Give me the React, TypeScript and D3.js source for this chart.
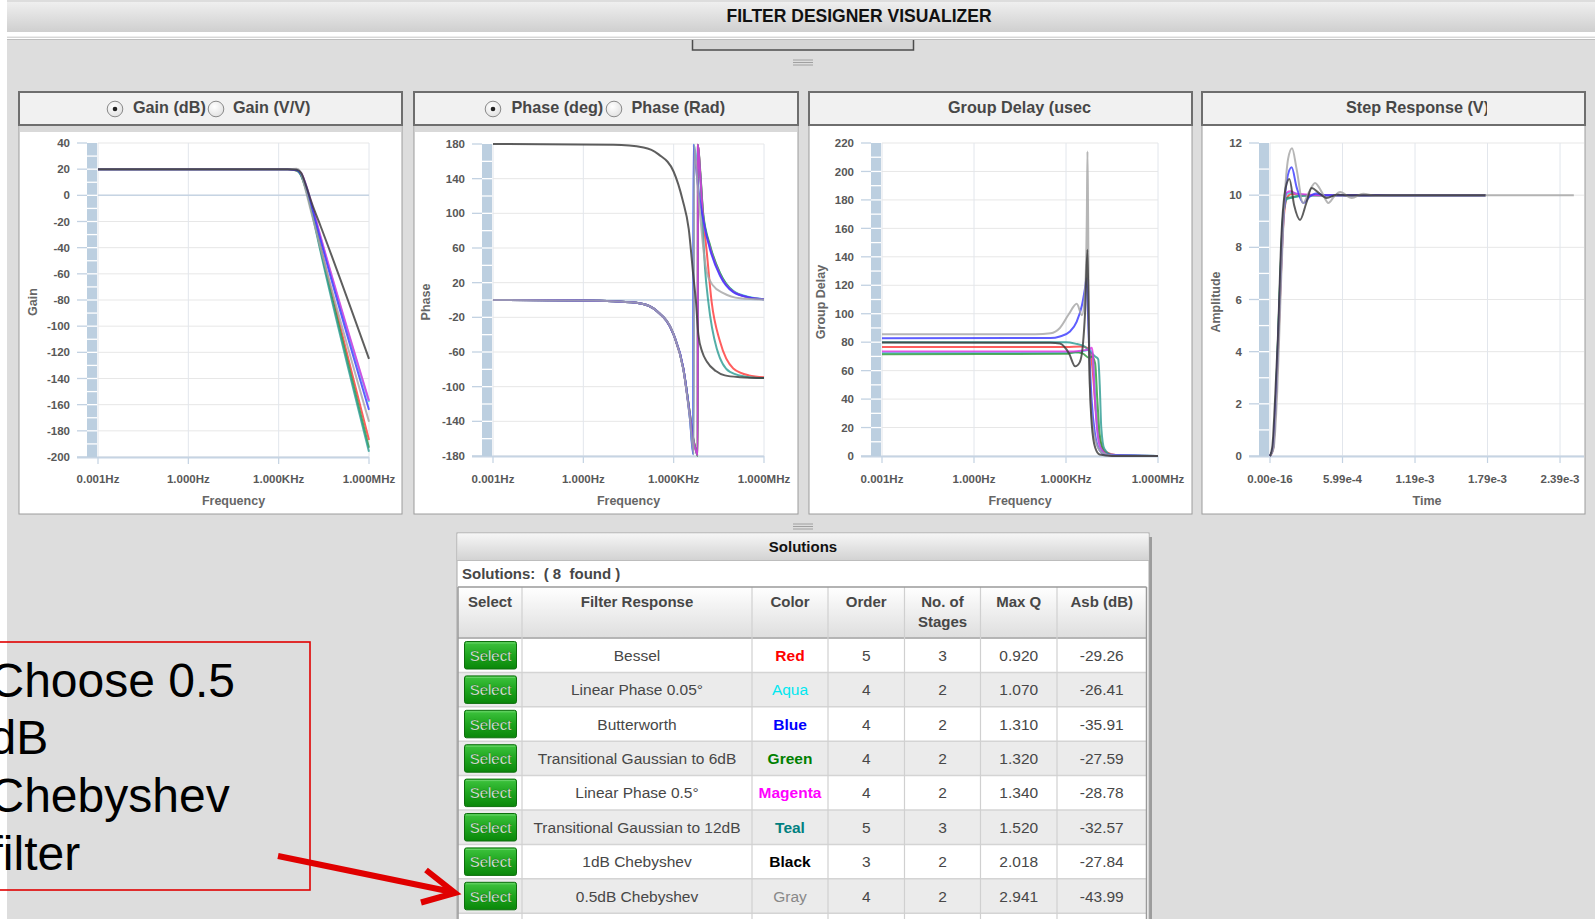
import React from 'react';
import * as d3 from 'd3';

type Pt = [number, number];

const FONT = "'Liberation Sans', Arial, Helvetica, sans-serif";

// ---------- filter table ----------
const filterNames = [
  'Bessel', 'Linear Phase 0.05°', 'Butterworth', 'Transitional Gaussian to 6dB',
  'Linear Phase 0.5°', 'Transitional Gaussian to 12dB', '1dB Chebyshev', '0.5dB Chebyshev',
];
const colorNames = ['Red', 'Aqua', 'Blue', 'Green', 'Magenta', 'Teal', 'Black', 'Gray'];
const colorSwatches = ['#ff0000', '#00e8f0', '#0000ff', '#008000', '#ff00ff', '#008080', '#000000', '#888888'];
const filterOrders = [5, 4, 4, 4, 4, 5, 3, 4];
const stageCounts = [3, 2, 2, 2, 2, 3, 2, 2];
const maxQ = ['0.920', '1.070', '1.310', '1.320', '1.340', '1.520', '2.018', '2.941'];
const asbDb = ['-29.26', '-26.41', '-35.91', '-27.59', '-28.78', '-32.57', '-27.84', '-43.99'];

// line colours per filter, in drawing order
const lineKeys = ['red', 'aqua', 'green', 'teal', 'magenta', 'blue', 'gray', 'black'];
const lineColors: Record<string, string> = {
  red: '#ff3b3b', aqua: '#2fe2ea', green: '#2f9a3a', teal: '#2e9c94',
  magenta: '#e034e0', blue: '#3a3aff', gray: '#a6a6a6', black: '#3a3a3a',
};

// ---------- gain (dB) vs log10(Hz) ----------
const gainRed: Pt[] = [[-3, 20], [3.3, 20], [3.6, 19], [3.75, 15.5], [3.9, 6], [4.1, -11], [4.4, -40], [6, -187]];
const gainAqua: Pt[] = [[-3, 20], [3.3, 20], [3.6, 19.5], [3.75, 16.5], [3.9, 8], [4.1, -8], [4.4, -33], [6, -158]];
const gainBlue: Pt[] = [[-3, 20], [3.3, 20], [3.6, 19.3], [3.75, 16], [3.9, 7], [4.1, -9], [4.4, -35], [6, -164]];
const gainGreen: Pt[] = [[-3, 20], [3.3, 20], [3.6, 19], [3.75, 15], [3.9, 5], [4.1, -12], [4.4, -42], [6, -193]];
const gainMagenta: Pt[] = [[-3, 20], [3.3, 20], [3.6, 19.6], [3.75, 17], [3.9, 8.5], [4.1, -7], [4.4, -32], [6, -157]];
const gainTeal: Pt[] = [[-3, 20], [3.3, 20], [3.6, 19], [3.75, 15], [3.9, 5], [4.1, -13], [4.4, -44], [6, -196]];
const gainBlack: Pt[] = [[-3, 20], [3.3, 20], [3.6, 19.5], [3.75, 17], [3.9, 8], [4.1, -6], [4.4, -24], [6, -125]];
const gainGray: Pt[] = [[-3, 20], [3.3, 20], [3.6, 20.3], [3.72, 18], [3.85, 8], [4.05, -10], [4.4, -41], [6, -173]];

// ---------- phase (deg) vs log10(Hz) ----------
const phaseRed: Pt[] = [[-3, 0], [0, -0.5], [1, -1.5], [1.9, -4], [2.45, -13], [3, -40], [3.32, -79], [3.54, -132], [3.65, -160], [3.73, -172], [3.8, -179], [3.805, 179], [3.87, 152], [3.98, 96], [4.1, 55], [4.26, -2], [4.54, -48], [4.98, -79], [5.5, -87], [6, -89]];
const phaseAqua: Pt[] = [[-3, 0], [0, -0.5], [1, -1.5], [1.9, -4], [2.45, -13], [3, -40], [3.32, -79], [3.54, -136], [3.66, -178], [3.665, 179], [3.75, 165], [3.87, 150], [3.98, 98], [4.21, 62], [4.54, 31], [4.98, 10.5], [5.5, 3.5], [6, 1]];
const phaseBlue: Pt[] = [[-3, 0], [0, -0.5], [1, -1.5], [1.9, -4], [2.45, -13], [3, -40], [3.32, -79], [3.54, -137], [3.65, -178], [3.655, 179], [3.75, 150], [3.85, 120], [3.98, 93], [4.21, 58], [4.54, 28], [4.98, 9], [5.5, 3], [6, 1]];
const phaseGreen: Pt[] = [[-3, 0], [0, -0.5], [1, -1.5], [1.9, -4], [2.45, -13], [3, -40], [3.32, -79], [3.54, -132], [3.65, -160], [3.73, -172], [3.8, -180], [3.805, 179], [3.88, 150], [3.98, 100], [4.21, 63], [4.54, 31], [4.98, 10], [5.5, 3], [6, 1]];
const phaseMagenta: Pt[] = [[-3, 0], [0, -0.5], [1, -1.5], [1.9, -4], [2.45, -13], [3, -40], [3.32, -79], [3.54, -134], [3.65, -162], [3.73, -173], [3.8, -179], [3.805, 179], [3.87, 152], [3.98, 95], [4.21, 60], [4.54, 29], [4.98, 9.6], [5.5, 3], [6, 1]];
const phaseTeal: Pt[] = [[-3, 0], [0, -0.5], [1, -1.5], [1.9, -4], [2.45, -13], [3, -40], [3.32, -79], [3.54, -132], [3.65, -160], [3.73, -172], [3.8, -179], [3.805, 179], [3.87, 150], [3.97, 80], [4.04, 37], [4.15, -2], [4.43, -56], [4.87, -83], [5.5, -89], [6, -90]];
const phaseBlack: Pt[] = [[-3, 180], [1, 179], [2, 176], [2.5, 168], [3, 148], [3.3, 115], [3.5, 82], [3.65, 29], [3.74, -2], [3.82, -40], [3.95, -60], [4.1, -71], [4.4, -82], [4.7, -87], [5.2, -89], [6, -90]];
const phaseGray: Pt[] = [[-3, 0], [0, -0.5], [1, -1.5], [1.9, -4], [2.45, -13], [3, -40], [3.32, -80], [3.54, -137], [3.67, -178], [3.675, 179], [3.78, 140], [3.9, 90], [4.0, 55], [4.1, 32], [4.3, 17], [4.65, 8], [5.2, 2], [6, 0.5]];

// ---------- group delay (usec) vs log10(Hz) ----------
const delayRed: Pt[] = [[-3, 76.7], [3, 76.7], [3.5, 77], [3.7, 76], [3.8, 72], [3.87, 60], [3.95, 38], [4.06, 15], [4.28, 3], [4.7, 0.3], [6, 0]];
const delayAqua: Pt[] = [[-3, 72.5], [3, 72.5], [3.5, 73.5], [3.75, 74.5], [3.85, 73], [3.92, 55], [3.98, 30], [4.08, 10], [4.3, 1], [6, 0]];
const delayBlue: Pt[] = [[-3, 82.8], [2.5, 82.9], [2.8, 84], [3.13, 87.5], [3.35, 94.5], [3.52, 106], [3.62, 118], [3.67, 125], [3.71, 105], [3.75, 80], [3.84, 38], [3.95, 15], [4.1, 4], [4.3, 1], [6, 0]];
const delayGreen: Pt[] = [[-3, 71.6], [3, 71.8], [3.3, 73], [3.55, 72], [3.75, 69], [3.85, 70], [3.95, 65], [4.02, 40], [4.1, 15], [4.25, 3], [4.6, 0.3], [6, 0]];
const delayMagenta: Pt[] = [[-3, 73.4], [3, 73.4], [3.5, 74], [3.75, 75], [3.84, 76], [3.88, 70], [3.93, 45], [4.0, 22], [4.12, 6], [4.4, 0.5], [6, 0]];
const delayTeal: Pt[] = [[-3, 80], [3, 80], [3.3, 79], [3.6, 77], [3.8, 73], [3.95, 70], [4.05, 68], [4.1, 50], [4.15, 20], [4.25, 5], [4.5, 0.5], [6, 0]];
const delayBlack: Pt[] = [[-3, 79.7], [2.5, 79.6], [2.8, 79], [3.1, 72], [3.3, 63], [3.45, 66], [3.55, 78], [3.62, 100], [3.7, 145], [3.76, 65], [3.84, 22], [3.95, 6], [4.1, 1], [4.5, 0], [6, 0]];
const delayGray: Pt[] = [[-3, 85.6], [2, 85.6], [2.5, 86.3], [2.8, 90], [3.1, 100], [3.35, 107], [3.52, 99], [3.62, 115], [3.68, 170], [3.7, 214], [3.72, 170], [3.76, 62], [3.84, 27], [4.0, 8], [4.2, 2], [4.5, 0.4], [6, 0]];

// ---------- step response (V) vs time in units of 1e-4 s ----------
const stepRed: Pt[] = [[0, 0], [0.25, 0.25], [0.5, 2.1], [0.8, 5.7], [1.1, 8.9], [1.4, 9.9], [1.8, 10.05], [2.5, 10.02], [4, 10], [17.8, 10]];
const stepAqua: Pt[] = [[0, 0], [0.25, 0.3], [0.5, 2.3], [0.8, 6.1], [1.1, 9.3], [1.4, 10.05], [1.8, 10.1], [2.5, 10.02], [4, 10], [17.8, 10]];
const stepBlue: Pt[] = [[0, 0], [0.25, 0.3], [0.5, 2.2], [0.8, 5.8], [1.1, 9.0], [1.4, 10.6], [1.79, 11.07], [2.2, 10.3], [2.75, 9.7], [3.3, 9.95], [3.8, 10.06], [4.5, 10], [17.8, 10]];
const stepGreen: Pt[] = [[0, 0], [0.25, 0.3], [0.5, 2.4], [0.8, 6.3], [1.1, 9.3], [1.4, 9.9], [1.8, 9.92], [2.5, 9.98], [3.5, 10], [17.8, 10]];
const stepMagenta: Pt[] = [[0, 0], [0.25, 0.3], [0.5, 2.3], [0.8, 6], [1.1, 9.2], [1.4, 10.1], [1.7, 10.15], [2.2, 10.05], [3, 10.03], [4, 10], [17.8, 10]];
const stepTeal: Pt[] = [[0, 0], [0.25, 0.3], [0.5, 2.4], [0.8, 6.2], [1.1, 9.2], [1.4, 9.85], [1.8, 9.9], [2.5, 9.97], [3.5, 10], [17.8, 10]];
const stepBlack: Pt[] = [[0, 0], [0.2, 0.4], [0.4, 2.0], [0.65, 4.5], [0.95, 8.5], [1.3, 10.3], [1.6, 10.62], [2.0, 9.6], [2.48, 9.05], [3.0, 9.7], [3.44, 10.27], [4.0, 10.1], [4.68, 9.89], [5.5, 10.02], [6.5, 10], [17.8, 10]];
const stepGray: Pt[] = [[0, 0], [0.3, 0.3], [0.6, 2.5], [0.9, 6.5], [1.2, 9.8], [1.5, 11.4], [1.82, 11.8], [2.2, 11.0], [2.73, 9.7], [3.2, 10.1], [3.72, 10.47], [4.3, 10.1], [4.82, 9.7], [5.3, 9.95], [5.79, 10.12], [6.75, 9.89], [7.7, 10.05], [8.7, 9.98], [10, 10], [25.1, 10]];

// ---------- axes ----------
const freqTicks = [1e-3, 1, 1e3, 1e6];
const freqLabels = ['0.001Hz', '1.000Hz', '1.000KHz', '1.000MHz'];
const gainTicks = [40, 20, 0, -20, -40, -60, -80, -100, -120, -140, -160, -180, -200];
const phaseTicks = [180, 140, 100, 60, 20, -20, -60, -100, -140, -180];
const delayTicks = [220, 200, 180, 160, 140, 120, 100, 80, 60, 40, 20, 0];
const ampTicks = [12, 10, 8, 6, 4, 2, 0];
const timeTicks = [0, 5.99e-4, 1.198e-3, 1.797e-3, 2.396e-3];
const timeLabels = ['0.00e-16', '5.99e-4', '1.19e-3', '1.79e-3', '2.39e-3'];

interface Cfg {
  left: number; right: number; plotL: number; plotR: number;
  yTop: number; yBot: number; yTicks: number[]; yTitle: string; xTitle: string;
  yTitleX: number; strip: boolean; zeroLine: boolean;
}

interface ChartProps {
  cfg: Cfg;
  x: (v: number) => number;
  xv: (p: number) => number;
  xTicks: number[];
  xLabels: string[];
  series: Record<string, Pt[]>;
  header: React.ReactNode;
}

function Chart({ cfg, x, xv, xTicks, xLabels, series, header }: ChartProps) {
  const yMax = cfg.yTicks[0];
  const yMin = cfg.yTicks[cfg.yTicks.length - 1];
  const y = d3.scaleLinear().domain([yMax, yMin]).range([cfg.yTop, cfg.yBot]);
  const line = d3.line<Pt>().x(p => x(xv(p[0]))).y(p => y(p[1])).curve(d3.curveMonotoneX);
  const nSeg = (cfg.yTicks.length - 1) * 2;
  const seps = d3.range(1, nSeg).map(i => cfg.yTop + (i * (cfg.yBot - cfg.yTop)) / nSeg);
  const barL = cfg.plotL - 11;
  const midX = (cfg.plotL + cfg.plotR) / 2;
  return (
    <g>
      <rect x={cfg.left} y={125} width={cfg.right - cfg.left} height={514 - 125} fill="#fff" stroke="#9c9c9c" strokeWidth={1} />
      {cfg.strip && <rect x={cfg.left + 1} y={125} width={cfg.right - cfg.left - 2} height={7} fill="#d9d9d9" />}
      {/* horizontal grid */}
      {cfg.yTicks.map(t => (
        <line key={'h' + t} x1={cfg.plotL} x2={cfg.plotR} y1={y(t)} y2={y(t)} stroke="#e7e7e7" strokeWidth={1} />
      ))}
      {/* vertical grid */}
      {xTicks.map(t => (
        <line key={'v' + t} x1={x(t)} x2={x(t)} y1={cfg.yTop} y2={cfg.yBot} stroke="#e2e6ec" strokeWidth={1} />
      ))}
      {xTicks.map(t => (
        <line key={'vt' + t} x1={x(t)} x2={x(t)} y1={cfg.yBot} y2={cfg.yBot + 7} stroke="#c3d2e2" strokeWidth={1.2} />
      ))}
      {cfg.zeroLine && <line x1={cfg.plotL} x2={cfg.plotR} y1={y(0)} y2={y(0)} stroke="#c6d4e3" strokeWidth={1.5} />}
      <line x1={cfg.plotL - 21} x2={cfg.plotR} y1={cfg.yBot + 0.5} y2={cfg.yBot + 0.5} stroke="#c6d4e3" strokeWidth={2} />
      {/* y axis band */}
      <rect x={barL} y={cfg.yTop} width={10} height={cfg.yBot - cfg.yTop} fill="#bccfe0" />
      {seps.map((s, i) => (
        <line key={'s' + i} x1={barL} x2={barL + 10} y1={s} y2={s} stroke="#fff" strokeWidth={1.3} />
      ))}
      {cfg.yTicks.map(t => (
        <line key={'yt' + t} x1={cfg.plotL - 21} x2={barL} y1={y(t)} y2={y(t)} stroke="#c3d2e2" strokeWidth={1.3} />
      ))}
      {cfg.yTicks.map(t => (
        <text key={'yl' + t} x={cfg.plotL - 28} y={y(t)} dy="0.36em" textAnchor="end" fontSize={11.5} fontWeight="bold" fill="#585858">{t}</text>
      ))}
      {xTicks.map((t, i) => (
        <text key={'xl' + t} x={x(t)} y={483} textAnchor="middle" fontSize={11.5} fontWeight="bold" fill="#585858">{xLabels[i]}</text>
      ))}
      <text x={midX} y={505} textAnchor="middle" fontSize={12.5} fontWeight="bold" fill="#666">{cfg.xTitle}</text>
      <text transform={`translate(${cfg.yTitleX},302) rotate(-90)`} textAnchor="middle" dy="0.36em" fontSize={12.5} fontWeight="bold" fill="#666">{cfg.yTitle}</text>
      {/* series */}
      {lineKeys.map(k => (
        <path key={k} d={line(series[k]) || ''} fill="none" stroke={lineColors[k]} strokeWidth={2} strokeOpacity={0.82} strokeLinejoin="round" />
      ))}
      {/* header */}
      <rect x={cfg.left} y={92} width={cfg.right - cfg.left} height={33} fill="#f1f1f1" stroke="#6e6e6e" strokeWidth={2} />
      {header}
    </g>
  );
}

function Radio({ cx, on }: { cx: number; on: boolean }) {
  return (
    <g>
      <circle cx={cx} cy={109} r={7.8} fill="url(#radioFill)" stroke="#8a8a8a" strokeWidth={1} />
      {on && <circle cx={cx} cy={109} r={2.3} fill="#222" />}
    </g>
  );
}

const headerText = { fontSize: 16.2, fontWeight: 'bold' as const, fill: '#474747' };

export default function App() {
  const cfgGain: Cfg = { left: 19, right: 402, plotL: 98, plotR: 369, yTop: 143, yBot: 457, yTicks: gainTicks, yTitle: 'Gain', xTitle: 'Frequency', yTitleX: 32, strip: true, zeroLine: true };
  const cfgPhase: Cfg = { left: 414, right: 798, plotL: 493, plotR: 764, yTop: 144, yBot: 456, yTicks: phaseTicks, yTitle: 'Phase', xTitle: 'Frequency', yTitleX: 425, strip: true, zeroLine: true };
  const cfgDelay: Cfg = { left: 809, right: 1192, plotL: 882, plotR: 1158, yTop: 143, yBot: 456, yTicks: delayTicks, yTitle: 'Group Delay', xTitle: 'Frequency', yTitleX: 820, strip: false, zeroLine: false };
  const cfgStep: Cfg = { left: 1202, right: 1585, plotL: 1270, plotR: 1584, yTop: 143, yBot: 456, yTicks: ampTicks, yTitle: 'Amplitude', xTitle: 'Time', yTitleX: 1215, strip: false, zeroLine: false };

  const fx = (c: Cfg) => d3.scaleLog().domain([1e-3, 1e6]).range([c.plotL, c.plotR]);
  const tx = d3.scaleLinear().domain([0, 2.594e-3]).range([cfgStep.plotL, cfgStep.plotR]);
  const logHz = (p: number) => Math.pow(10, p);
  const sec = (p: number) => p * 1e-4;

  const gainSeries = { red: gainRed, aqua: gainAqua, blue: gainBlue, green: gainGreen, magenta: gainMagenta, teal: gainTeal, black: gainBlack, gray: gainGray };
  const phaseSeries = { red: phaseRed, aqua: phaseAqua, blue: phaseBlue, green: phaseGreen, magenta: phaseMagenta, teal: phaseTeal, black: phaseBlack, gray: phaseGray };
  const delaySeries = { red: delayRed, aqua: delayAqua, blue: delayBlue, green: delayGreen, magenta: delayMagenta, teal: delayTeal, black: delayBlack, gray: delayGray };
  const stepSeries = { red: stepRed, aqua: stepAqua, blue: stepBlue, green: stepGreen, magenta: stepMagenta, teal: stepTeal, black: stepBlack, gray: stepGray };

  // table geometry
  const cols = [458, 522, 752, 828, 904.5, 980.5, 1057, 1146.5];
  const headTop = 587, headBot = 638, rowH = 34.4;
  const colMid = (i: number) => (cols[i] + cols[i + 1]) / 2;
  const rowTop = (i: number) => headBot + i * rowH;
  const txt = { fontSize: 15.5, fill: '#474747' };

  return (
    <svg width={1595} height={919} style={{ position: 'absolute', left: 0, top: 0, fontFamily: FONT }}>
      <defs>
        <linearGradient id="pageHead" x1="0" y1="0" x2="0" y2="1">
          <stop offset="0" stopColor="#efefef" />
          <stop offset="1" stopColor="#cfcfcf" />
        </linearGradient>
        <linearGradient id="solHead" x1="0" y1="0" x2="0" y2="1">
          <stop offset="0" stopColor="#f6f6f6" />
          <stop offset="1" stopColor="#d2d2d2" />
        </linearGradient>
        <linearGradient id="tblHead" x1="0" y1="0" x2="0" y2="1">
          <stop offset="0" stopColor="#ffffff" />
          <stop offset="1" stopColor="#dedede" />
        </linearGradient>
        <linearGradient id="btn" x1="0" y1="0" x2="0" y2="1">
          <stop offset="0" stopColor="#3fc43f" />
          <stop offset="0.5" stopColor="#1ea51e" />
          <stop offset="1" stopColor="#0a870a" />
        </linearGradient>
        <radialGradient id="radioFill" cx="0.4" cy="0.35" r="0.8">
          <stop offset="0" stopColor="#ffffff" />
          <stop offset="1" stopColor="#dcdcdc" />
        </radialGradient>
        <clipPath id="clipDelayHead"><rect x={809} y={92} width={282} height={33} /></clipPath>
        <clipPath id="clipStepHead"><rect x={1202} y={92} width={285} height={33} /></clipPath>
      </defs>

      {/* page */}
      <rect x={0} y={0} width={1595} height={919} fill="#ffffff" />
      <rect x={7} y={0} width={1588} height={919} fill="#dddddd" />

      {/* title bar */}
      <rect x={7} y={2} width={1588} height={30} fill="url(#pageHead)" />
      <text x={859} y={21.5} textAnchor="middle" fontSize={17.5} fontWeight="bold" fill="#111">FILTER DESIGNER VISUALIZER</text>
      <rect x={7} y={32} width={1588} height={8} fill="#ffffff" />
      <line x1={7} x2={1595} y1={37.2} y2={37.2} stroke="#c6c6c6" strokeWidth={1} />
      <line x1={7} x2={1595} y1={39.5} y2={39.5} stroke="#bdbdbd" strokeWidth={1} />
      <rect x={692} y={40} width={222} height={10} fill="#d5d5d5" />
      <path d="M692.5,40 V50 H913.5 V40" fill="none" stroke="#4c4c4c" strokeWidth={1.5} />
      {[60, 62.5, 65].map(g => <line key={'g1' + g} x1={793} x2={813} y1={g} y2={g} stroke="#a0a0a0" strokeWidth={1} />)}

      {/* charts */}
      <Chart cfg={cfgGain} x={fx(cfgGain)} xv={logHz} xTicks={freqTicks} xLabels={freqLabels} series={gainSeries}
        header={<g>
          <Radio cx={115} on={true} />
          <text x={133} y={113} {...headerText}>Gain (dB)</text>
          <Radio cx={216} on={false} />
          <text x={233} y={113} {...headerText}>Gain (V/V)</text>
        </g>} />
      <Chart cfg={cfgPhase} x={fx(cfgPhase)} xv={logHz} xTicks={freqTicks} xLabels={freqLabels} series={phaseSeries}
        header={<g>
          <Radio cx={493} on={true} />
          <text x={511.5} y={113} {...headerText}>Phase (deg)</text>
          <Radio cx={614} on={false} />
          <text x={631.5} y={113} {...headerText}>Phase (Rad)</text>
        </g>} />
      <Chart cfg={cfgDelay} x={fx(cfgDelay)} xv={logHz} xTicks={freqTicks} xLabels={freqLabels} series={delaySeries}
        header={<g clipPath="url(#clipDelayHead)">
          <text x={948} y={113} {...headerText}>Group Delay (usec)</text>
        </g>} />
      <Chart cfg={cfgStep} x={tx} xv={sec} xTicks={timeTicks} xLabels={timeLabels} series={stepSeries}
        header={<g clipPath="url(#clipStepHead)">
          <text x={1346} y={113} {...headerText}>Step Response (V)</text>
        </g>} />

      {/* splitter */}
      {[524, 526.5, 529].map(g => <line key={'g2' + g} x1={793} x2={813} y1={g} y2={g} stroke="#a0a0a0" strokeWidth={1} />)}

      {/* solutions panel */}
      <rect x={1149} y={537} width={3} height={400} fill="#9c9c9c" />
      <rect x={457} y={533} width={692} height={400} fill="#ffffff" stroke="#a8a8a8" strokeWidth={1} />
      <rect x={457.5} y={533.5} width={691} height={27} fill="url(#solHead)" />
      <line x1={457} x2={1149} y1={560.5} y2={560.5} stroke="#bdbdbd" />
      <text x={803} y={551.5} textAnchor="middle" fontSize={15} fontWeight="bold" fill="#111">Solutions</text>
      <text x={462} y={578.5} fontSize={15} fontWeight="bold" fill="#474747" style={{ whiteSpace: 'pre' }}>{'Solutions:  ( 8  found )'}</text>

      {/* table header */}
      <rect x={cols[0]} y={headTop} width={cols[7] - cols[0]} height={headBot - headTop} fill="url(#tblHead)" />
      {['Select', 'Filter Response', 'Color', 'Order', 'No. of', 'Max Q', 'Asb (dB)'].map((h, i) => (
        <text key={'th' + i} x={colMid(i)} y={607} textAnchor="middle" fontSize={15} fontWeight="bold" fill="#474747">{h}</text>
      ))}
      <text x={colMid(4)} y={627} textAnchor="middle" fontSize={15} fontWeight="bold" fill="#474747">Stages</text>

      {/* table rows */}
      {filterNames.map((name, i) => {
        const top = rowTop(i);
        const cy = top + rowH / 2 + 5.5;
        return (
          <g key={'row' + i}>
            <rect x={cols[0]} y={top} width={cols[7] - cols[0]} height={rowH} fill={i % 2 === 0 ? '#ffffff' : '#ebebeb'} />
            <rect x={464.5} y={top + 3.5} width={52} height={27.5} rx={2} fill="url(#btn)" stroke="#0d6e0d" strokeWidth={1} />
            <line x1={466} x2={515} y1={top + 5} y2={top + 5} stroke="#7ddc7d" strokeWidth={1} strokeOpacity={0.7} />
            <text x={490.5} y={cy} textAnchor="middle" fontSize={15} fill="#ffffff" stroke="#0b5e0b" strokeWidth={0.3}>Select</text>
            <text x={colMid(1)} y={cy} textAnchor="middle" {...txt}>{name}</text>
            <text x={colMid(2)} y={cy} textAnchor="middle" fontSize={15.5} fontWeight={i === 7 || i === 1 ? 'normal' : 'bold'} fill={colorSwatches[i]}>{colorNames[i]}</text>
            <text x={colMid(3)} y={cy} textAnchor="middle" {...txt}>{filterOrders[i]}</text>
            <text x={colMid(4)} y={cy} textAnchor="middle" {...txt}>{stageCounts[i]}</text>
            <text x={colMid(5)} y={cy} textAnchor="middle" {...txt}>{maxQ[i]}</text>
            <text x={colMid(6)} y={cy} textAnchor="middle" {...txt}>{asbDb[i]}</text>
          </g>
        );
      })}
      <rect x={cols[0]} y={rowTop(8)} width={cols[7] - cols[0]} height={10} fill="#ffffff" />
      {/* grid lines of table */}
      {d3.range(0, 9).map(i => (
        <line key={'rl' + i} x1={cols[0]} x2={cols[7]} y1={rowTop(i)} y2={rowTop(i)} stroke="#d4d4d4" strokeWidth={1.5} />
      ))}
      <line x1={cols[0]} x2={cols[7]} y1={headBot} y2={headBot} stroke="#a8a8a8" strokeWidth={1.5} />
      {cols.map((c, i) => (
        <line key={'cl' + i} x1={c} x2={c} y1={headTop} y2={919} stroke={i === 0 || i === 7 ? '#9a9a9a' : '#d0d0d0'} strokeWidth={i === 0 || i === 7 ? 1.5 : 1.2} />
      ))}
      <line x1={cols[0]} x2={cols[7]} y1={headTop} y2={headTop} stroke="#9a9a9a" strokeWidth={1.5} />

      {/* callout */}
      <rect x={-5} y={642} width={315} height={248} fill="none" stroke="#e00000" strokeWidth={1.6} />
      {['Choose 0.5', 'dB', 'Chebyshev', 'filter'].map((s, i) => (
        <text key={'c' + i} x={-10.5} y={696.5 + i * 57.7} fontSize={48} fill="#000">{s}</text>
      ))}
      <line x1={278} y1={856} x2={450} y2={891.5} stroke="#e00000" strokeWidth={6} />
      <polyline points="426,870 455,893 421,902.5" fill="none" stroke="#e00000" strokeWidth={6} strokeLinejoin="miter" />
    </svg>
  );
}
